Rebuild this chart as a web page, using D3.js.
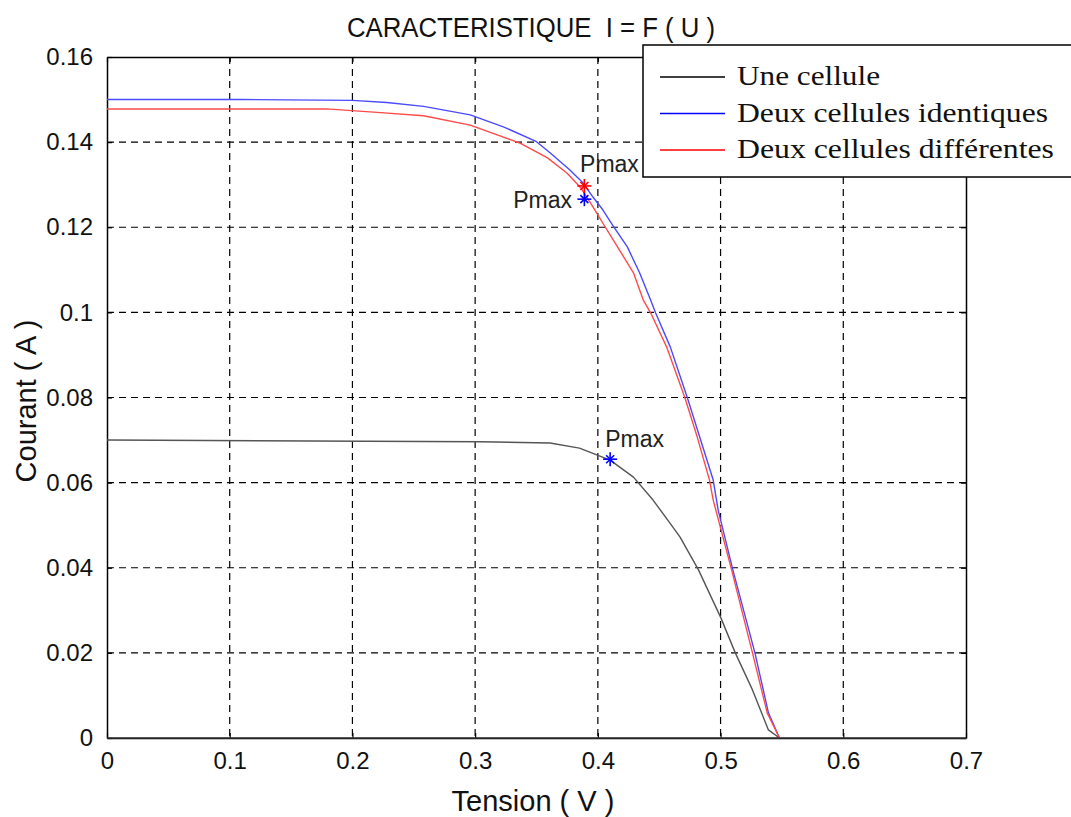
<!DOCTYPE html>
<html>
<head>
<meta charset="utf-8">
<script src="https://cdn.jsdelivr.net/npm/d3@7"></script>
<style>
  html, body { margin: 0; padding: 0; background: #fff; }
  svg { display: block; }
</style>
</head>
<body>
<svg id="chart" width="1071" height="817"></svg>
<script>
// ---------- data ----------
const title = "CARACTERISTIQUE  I = F ( U )";
const xLabel = "Tension ( V )";
const yLabel = "Courant ( A )";

const xTicks = [0, 0.1, 0.2, 0.3, 0.4, 0.5, 0.6, 0.7];
const xTickLabels = ["0", "0.1", "0.2", "0.3", "0.4", "0.5", "0.6", "0.7"];
const yTicks = [0, 0.02, 0.04, 0.06, 0.08, 0.1, 0.12, 0.14, 0.16];
const yTickLabels = ["0", "0.02", "0.04", "0.06", "0.08", "0.1", "0.12", "0.14", "0.16"];

const seriesNames = ["Une cellule", "Deux cellules identiques", "Deux cellules différentes"];
const seriesColors = ["#000000", "#0000ff", "#ff0000"];

// Une cellule
const uneU = [0, 0.304, 0.361, 0.385, 0.41, 0.429, 0.445, 0.461, 0.467, 0.482, 0.5, 0.512, 0.526, 0.539, 0.548];
const uneI = [0.07, 0.0696, 0.0693, 0.0681, 0.0653, 0.0613, 0.0559, 0.0496, 0.0472, 0.0395, 0.0284, 0.0200, 0.0113, 0.0019, 0];

// Deux cellules identiques
const identU = [0, 0.111, 0.2, 0.228, 0.258, 0.296, 0.323, 0.350, 0.361, 0.377, 0.388, 0.396, 0.404, 0.412, 0.424, 0.434, 0.443, 0.447, 0.459, 0.473, 0.483, 0.494, 0.498, 0.510, 0.528, 0.539, 0.548];
const identI = [0.150, 0.150, 0.1498, 0.1493, 0.1484, 0.1464, 0.1436, 0.1401, 0.1375, 0.1335, 0.1304, 0.1271, 0.1241, 0.1205, 0.1154, 0.1093, 0.1029, 0.0999, 0.0919, 0.0799, 0.0707, 0.0606, 0.0536, 0.0395, 0.0200, 0.0059, 0];

// Deux cellules différentes
const diffU = [0, 0.179, 0.22, 0.258, 0.296, 0.337, 0.359, 0.375, 0.386, 0.396, 0.404, 0.416, 0.429, 0.437, 0.443, 0.456, 0.471, 0.481, 0.491, 0.494, 0.509, 0.526, 0.538, 0.548];
const diffI = [0.1478, 0.1478, 0.147, 0.1462, 0.1440, 0.1397, 0.1363, 0.1327, 0.1293, 0.1248, 0.1210, 0.1154, 0.1093, 0.1029, 0.0999, 0.0919, 0.0799, 0.0707, 0.0606, 0.0559, 0.0395, 0.0200, 0.0059, 0];

// Pmax markers
const pmaxU = [0.41, 0.389, 0.389];
const pmaxI = [0.0655, 0.1266, 0.1297];
const pmaxColor = ["#0000ff", "#0000ff", "#ff0000"];

// Pmax text annotations (data anchor)
const pmaxLabelU = [0.406, 0.379, 0.3855];
const pmaxLabelI = [0.0684, 0.1245, 0.133];
const pmaxLabelAnchor = ["start", "end", "start"];
const pmaxLabelText = ["Pmax", "Pmax", "Pmax"];

// ---------- layout ----------
const svg = d3.select("#chart");
const mLeft = 107, mRight = 966, mTop = 57, mBottom = 738;

const x = d3.scaleLinear().domain([0, 0.7]).range([mLeft, mRight]);
const y = d3.scaleLinear().domain([0, 0.16]).range([mBottom, mTop]);

const axisFont = "Arial, 'Liberation Sans', sans-serif";
const serifFont = "'Liberation Serif', 'Times New Roman', serif";

// grid
const grid = svg.append("g");
grid.selectAll("line.gx").data(xTicks.slice(1, -1)).enter().append("line")
  .attr("x1", d => x(d)).attr("x2", d => x(d))
  .attr("y1", mTop).attr("y2", mBottom)
  .attr("stroke", "#000").attr("stroke-width", 1.2).attr("stroke-dasharray", "7,5");
grid.selectAll("line.gy").data(yTicks.slice(1, -1)).enter().append("line")
  .attr("y1", d => y(d)).attr("y2", d => y(d))
  .attr("x1", mLeft).attr("x2", mRight)
  .attr("stroke", "#000").attr("stroke-width", 1.2).attr("stroke-dasharray", "7,5");

// axes (inward ticks, box)
const axB = d3.axisBottom(x).tickValues(xTicks).tickSizeInner(-5).tickSizeOuter(0)
  .tickFormat((d, i) => xTickLabels[i]).tickPadding(14);
const axL = d3.axisLeft(y).tickValues(yTicks).tickSizeInner(-5).tickSizeOuter(0)
  .tickFormat((d, i) => yTickLabels[i]).tickPadding(14);
const axT = d3.axisTop(x).tickValues(xTicks).tickSizeInner(-5).tickSizeOuter(0).tickFormat("");
const axR = d3.axisRight(y).tickValues(yTicks).tickSizeInner(-5).tickSizeOuter(0).tickFormat("");

function styleAxis(g) {
  g.select(".domain").attr("stroke", "#000").attr("stroke-width", 1.5);
  g.selectAll(".tick line").attr("stroke", "#000").attr("stroke-width", 1.2);
  g.selectAll(".tick text").attr("fill", "#111").style("font-family", axisFont).style("font-size", "24px");
}
svg.append("g").attr("transform", `translate(0,${mBottom})`).call(axB).call(styleAxis);
svg.append("g").attr("transform", `translate(${mLeft},0)`).call(axL).call(styleAxis);
svg.append("g").attr("transform", `translate(0,${mTop})`).call(axT).call(styleAxis);
svg.append("g").attr("transform", `translate(${mRight},0)`).call(axR).call(styleAxis);

// curves
const line = d3.line().x(d => x(d[0])).y(d => y(d[1]));
const series = [
  d3.zip(uneU, uneI),
  d3.zip(identU, identI),
  d3.zip(diffU, diffI)
];
const curveColors = ["#555555", "#4a4aff", "#ff4a4a"];
series.forEach((s, i) => {
  svg.append("path").datum(s).attr("d", line)
    .attr("fill", "none").attr("stroke", curveColors[i]).attr("stroke-width", 1.4)
    .attr("stroke-linejoin", "round");
});
svg.append("line").attr("x1", mLeft).attr("x2", mRight).attr("y1", mBottom).attr("y2", mBottom)
  .attr("stroke", "#333").attr("stroke-width", 1.5);

// Pmax asterisk markers
d3.range(pmaxU.length).forEach(i => {
  const cx = x(pmaxU[i]), cy = y(pmaxI[i]);
  const g = svg.append("g").attr("stroke", pmaxColor[i]).attr("stroke-width", 1.6);
  const a = 7, b = 4;
  g.append("line").attr("x1", cx - a).attr("x2", cx + a).attr("y1", cy).attr("y2", cy);
  g.append("line").attr("x1", cx).attr("x2", cx).attr("y1", cy - a).attr("y2", cy + a);
  g.append("line").attr("x1", cx - b).attr("x2", cx + b).attr("y1", cy - b).attr("y2", cy + b);
  g.append("line").attr("x1", cx - b).attr("x2", cx + b).attr("y1", cy + b).attr("y2", cy - b);
});

// Pmax labels
d3.range(pmaxLabelText.length).forEach(i => {
  svg.append("text")
    .attr("x", x(pmaxLabelU[i])).attr("y", y(pmaxLabelI[i]))
    .attr("text-anchor", pmaxLabelAnchor[i])
    .style("font-family", axisFont).style("font-size", "23px").attr("fill", "#222")
    .text(pmaxLabelText[i]);
});

// title + axis labels
svg.append("text").attr("x", 531).attr("y", 37).attr("text-anchor", "middle")
  .style("font-family", axisFont).style("font-size", "27px").attr("fill", "#111")
  .style("white-space", "pre")
  .attr("textLength", 368).attr("lengthAdjust", "spacingAndGlyphs")
  .text(title);
svg.append("text").attr("x", 533).attr("y", 811).attr("text-anchor", "middle")
  .style("font-family", axisFont).style("font-size", "29px").attr("fill", "#111").text(xLabel);
svg.append("text").attr("transform", `translate(36,401) rotate(-90)`).attr("text-anchor", "middle")
  .style("font-family", axisFont).style("font-size", "29px").attr("fill", "#111").text(yLabel);

// legend
const legendWidths = [143, 311, 317];
const lg = svg.append("g");
lg.append("rect").attr("x", 643).attr("y", 45).attr("width", 440).attr("height", 132)
  .attr("fill", "#fff").attr("stroke", "#000").attr("stroke-width", 1.5);
seriesNames.forEach((name, i) => {
  const ly = 77 + i * 36.5;
  lg.append("line").attr("x1", 660).attr("x2", 725).attr("y1", ly).attr("y2", ly)
    .attr("stroke", seriesColors[i]).attr("stroke-width", 1.5);
  lg.append("text").attr("x", 737).attr("y", ly + 8)
    .style("font-family", serifFont).style("font-size", "27px")
    .attr("textLength", legendWidths[i]).attr("lengthAdjust", "spacingAndGlyphs")
    .attr("fill", "#111").text(name);
});
</script>
</body>
</html>
